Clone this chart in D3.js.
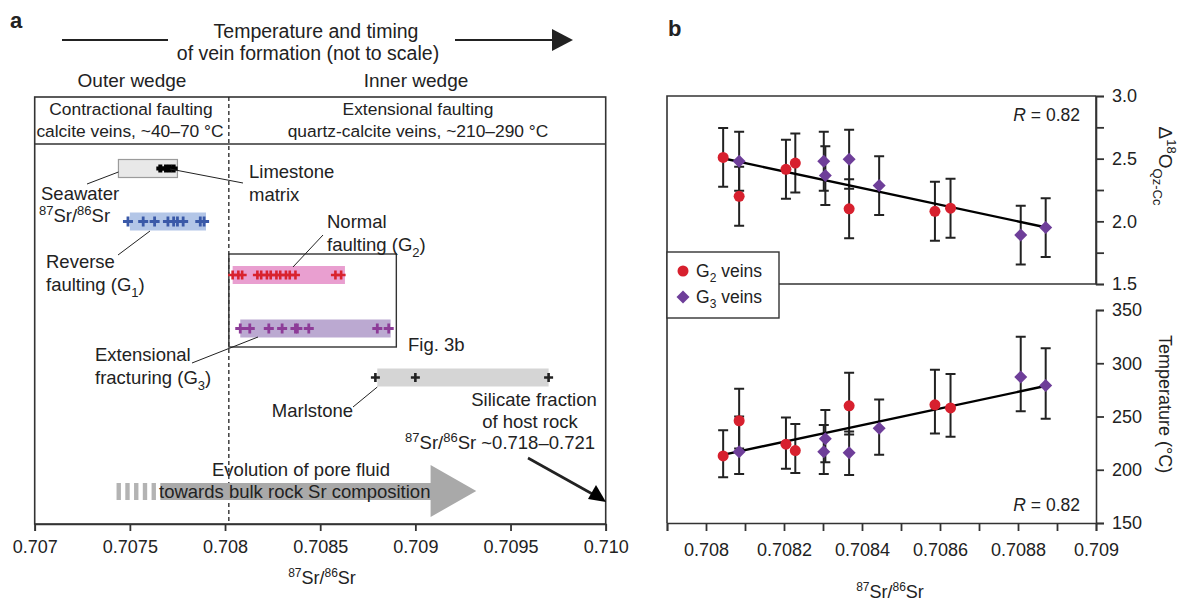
<!DOCTYPE html>
<html>
<head>
<meta charset="utf-8">
<script src="https://cdn.jsdelivr.net/npm/d3@7"></script>
<style>
  body { margin: 0; background: #fff; }
</style>
</head>
<body>
<script>
// ---- panel a: 87Sr/86Sr ranges ----
const srTicksA = [0.707, 0.7075, 0.708, 0.7085, 0.709, 0.7095, 0.710];
const seawaterRange = [0.70744, 0.70775];
const limestoneSr = [0.70766, 0.70769, 0.70771, 0.70773];
const g1Range = [0.7075, 0.7079];
const g1Sr = [0.70749, 0.70757, 0.70763, 0.70770, 0.70773, 0.70775, 0.70778, 0.70787, 0.70789];
const g2Range = [0.70804, 0.70863];
const g2SrA = [0.70804, 0.70807, 0.70809, 0.70817, 0.70819, 0.70822, 0.70824,
  0.70827, 0.70829, 0.70832, 0.70834, 0.70837, 0.70858, 0.70861];
const g3Range = [0.70808, 0.70887];
const g3SrA = [0.70808, 0.70813, 0.70823, 0.70830, 0.70837, 0.70838, 0.70844, 0.70880, 0.70886];
const marlRange = [0.70880, 0.70970];
const marlSr = [0.70879, 0.70900, 0.70970];
const fig3bRange = [0.70802, 0.70890];
const veinBoundary = 0.70802;
// stripes start, body start, head base, tip
const poreFluidArrow = [0.70743, 0.70766, 0.70908, 0.70932];

// ---- panel b: G2 / G3 veins ----
const srTicksB = [0.7079, 0.708, 0.7081, 0.7082, 0.7083, 0.7084, 0.7085, 0.7086, 0.7087, 0.7088, 0.7089, 0.709];
const srLabelsB = [0.708, 0.7082, 0.7084, 0.7086, 0.7088, 0.709];
const d18OTicks = [1.5, 1.75, 2.0, 2.25, 2.5, 2.75, 3.0];
const tempTicks = [150, 200, 250, 300, 350];

const g2Sr = [0.708044, 0.708085, 0.708205, 0.708229, 0.708367, 0.708587, 0.708627];
const g2D18O = [2.51, 2.20, 2.415, 2.465, 2.10, 2.08, 2.105];
const g2D18OErr = [0.235, 0.235, 0.235, 0.235, 0.235, 0.235, 0.235];
const g2Temp = [213, 246, 224, 218, 260, 261, 258];
const g2TempLo = [193, 220, 201, 197, 233, 234, 231];
const g2TempHi = [237, 276, 249, 243, 291, 294, 290];

const g3Sr = [0.708085, 0.708302, 0.708306, 0.708367, 0.708444, 0.708807, 0.708871];
const g3D18O = [2.48, 2.48, 2.365, 2.495, 2.285, 1.89, 1.95];
const g3D18OErr = [0.235, 0.235, 0.235, 0.235, 0.235, 0.235, 0.235];
const g3Temp = [217, 217, 229, 216, 239, 287, 279];
const g3TempLo = [196, 196, 207, 195, 214, 255, 248];
const g3TempHi = [250, 242, 256, 236, 266, 325, 314];

const fitSr = [0.70804, 0.70887];
const fitD18O = [2.505, 1.953];
const fitTemp = [213.8, 278.6];

const width = 1185;
const height = 602;
const font = "'Liberation Sans', Arial, Helvetica, sans-serif";
const labelSize = 18.5;

const colors = {
  text: "#222222",
  frame: "#333333",
  blueBar: "#b3c6e7",
  blueCross: "#3a59a8",
  pinkBar: "#e99fd0",
  redCross: "#d9232e",
  purpleBar: "#bba9d1",
  purpleCross: "#8d3c98",
  grayBar: "#d5d5d5",
  seawater: "#e8e8e8",
  seawaterEdge: "#9b9b9b",
  arrow: "#a9a9a9",
  g2: "#d7202e",
  g3: "#6e3e99",
};

const svg = d3.select("body")
  .append("svg")
  .attr("width", width)
  .attr("height", height)
  .attr("viewBox", `0 0 ${width} ${height}`)
  .style("font-family", font);

svg.append("rect").attr("width", width).attr("height", height).attr("fill", "#fff");

// text with super/subscript parts: [text, "sup"|"sub"|null]
function richText(g, x, y, parts, opts = {}) {
  const size = opts.size || labelSize;
  const t = g.append("text")
    .attr("x", x)
    .attr("y", y)
    .attr("fill", colors.text)
    .attr("font-size", size)
    .attr("text-anchor", opts.anchor || "start");
  if (opts.transform) t.attr("transform", opts.transform);
  let shift = 0;
  parts.forEach(([str, kind]) => {
    const span = t.append("tspan").text(str);
    let target = 0;
    if (kind === "sup") target = -Math.round(size * 0.4);
    if (kind === "sub") target = Math.round(size * 0.3);
    if (target !== shift) span.attr("dy", target - shift);
    shift = target;
    if (kind) span.attr("font-size", Math.round(size * 0.68));
  });
  return t;
}

function line(g, x1, y1, x2, y2, w = 1) {
  return g.append("line")
    .attr("x1", x1).attr("y1", y1).attr("x2", x2).attr("y2", y2)
    .attr("stroke", colors.text).attr("stroke-width", w);
}

function label(g, x, y, str, size = labelSize, anchor = "start") {
  return g.append("text").attr("x", x).attr("y", y).attr("text-anchor", anchor)
    .attr("font-size", size).attr("fill", colors.text).text(str);
}

// ================= panel a =================
const a = svg.append("g");
const xA = d3.scaleLinear().domain([0.707, 0.710]).range([34.7, 605.7]);
const frameA = { top: 97, header: 144, bottom: 524 };

a.append("text").attr("x", 10).attr("y", 28).attr("font-size", 22).attr("font-weight", 700)
  .attr("fill", colors.text).text("a");

// timing arrow header
line(a, 62, 40, 168, 40, 2.2);
line(a, 455, 40, 556, 40, 2.2);
a.append("path").attr("d", "M552,29L573,40L552,51Z").attr("fill", colors.text);
label(a, 316, 38, "Temperature and timing", 19.5, "middle");
label(a, 308, 60, "of vein formation (not to scale)", 19.5, "middle");
label(a, 132, 87, "Outer wedge", 19, "middle");
label(a, 416, 87, "Inner wedge", 19, "middle");

// frame
a.append("rect")
  .attr("x", xA(0.707)).attr("y", frameA.top)
  .attr("width", xA(0.710) - xA(0.707)).attr("height", frameA.bottom - frameA.top)
  .attr("fill", "none").attr("stroke", colors.frame).attr("stroke-width", 1.6);
line(a, xA(0.707), frameA.header, xA(0.710), frameA.header, 1.6).attr("stroke", colors.frame);
line(a, xA(veinBoundary), frameA.top, xA(veinBoundary), frameA.bottom, 1.3)
  .attr("stroke-dasharray", "4,3");

label(a, 131, 115, "Contractional faulting", 17.4, "middle");
label(a, 130, 137, "calcite veins, ~40–70 °C", 17.4, "middle");
label(a, 418, 115, "Extensional faulting", 17.4, "middle");
label(a, 418, 137, "quartz-calcite veins, ~210–290 °C", 17.4, "middle");

// x axis of panel a
a.append("g")
  .attr("transform", `translate(0,${frameA.bottom})`)
  .call(d3.axisBottom(xA).tickValues(srTicksA).tickSize(7).tickPadding(9)
    .tickFormat(d => d === 0.710 ? "0.710" : String(d)))
  .call(g => g.select(".domain").attr("stroke", colors.frame).attr("stroke-width", 1.6))
  .call(g => g.selectAll(".tick line").attr("stroke", colors.frame).attr("stroke-width", 1.8))
  .call(g => g.selectAll("text").attr("font-size", 18).attr("font-family", font).attr("fill", colors.text));
richText(a, 322, 584, [["87", "sup"], ["Sr/", null], ["86", "sup"], ["Sr", null]], { anchor: "middle", size: 18 });

const rowY = { seawater: 168.5, g1: 221.5, g2: 275, g3: 328.5, marl: 377.5 };
const barH = 18;

function rangeBar(range, cy, fill, stroke) {
  const r = a.append("rect")
    .attr("x", xA(range[0])).attr("y", cy - barH / 2)
    .attr("width", xA(range[1]) - xA(range[0])).attr("height", barH)
    .attr("fill", fill);
  if (stroke) r.attr("stroke", stroke).attr("stroke-width", 1.2);
}

function crosses(values, cy, color, half = 4.5, w = 2.6) {
  a.append("g").selectAll("path")
    .data(values)
    .join("path")
    .attr("d", d => `M${xA(d) - half},${cy}H${xA(d) + half}M${xA(d)},${cy - half}V${cy + half}`)
    .attr("stroke", color)
    .attr("stroke-width", w)
    .attr("fill", "none");
}

// Fig. 3b box
a.append("rect")
  .attr("x", xA(fig3bRange[0])).attr("y", 254)
  .attr("width", xA(fig3bRange[1]) - xA(fig3bRange[0])).attr("height", 93)
  .attr("fill", "none").attr("stroke", colors.frame).attr("stroke-width", 1.4);
label(a, 408, 351, "Fig. 3b");

rangeBar(seawaterRange, rowY.seawater, colors.seawater, colors.seawaterEdge);
crosses(limestoneSr, rowY.seawater, "#000", 4, 4);
rangeBar(g1Range, rowY.g1, colors.blueBar);
crosses(g1Sr, rowY.g1, colors.blueCross, 5, 2.8);
rangeBar(g2Range, rowY.g2, colors.pinkBar);
crosses(g2SrA, rowY.g2, colors.redCross);
rangeBar(g3Range, rowY.g3, colors.purpleBar);
crosses(g3SrA, rowY.g3, colors.purpleCross, 5, 2.8);
rangeBar(marlRange, rowY.marl, colors.grayBar);
crosses(marlSr, rowY.marl, colors.text, 4.5, 2.6);

// labels and leader lines
line(a, xA(seawaterRange[0]), 172, 87, 184);
label(a, 41, 200, "Seawater");
richText(a, 39, 222, [["87", "sup"], ["Sr/", null], ["86", "sup"], ["Sr", null]]);

line(a, 170, 169, 243, 183);
label(a, 249, 178, "Limestone");
label(a, 249, 201, "matrix");

line(a, 150, 231, 118, 255);
label(a, 46, 268, "Reverse");
richText(a, 46, 291, [["faulting (G", null], ["1", "sub"], [")", null]]);

line(a, 323, 235, 293, 267);
label(a, 327, 228, "Normal");
richText(a, 327, 251, [["faulting (G", null], ["2", "sub"], [")", null]]);

line(a, 258, 337, 192, 363);
label(a, 95, 361, "Extensional");
richText(a, 95, 384, [["fracturing (G", null], ["3", "sub"], [")", null]]);

line(a, xA(marlRange[0]), 387, 353, 407);
label(a, 353, 417, "Marlstone", labelSize, "end");

label(a, 534, 406, "Silicate fraction", labelSize, "middle");
label(a, 530, 428, "of host rock", labelSize, "middle");
richText(a, 595, 449, [["87", "sup"], ["Sr/", null], ["86", "sup"], ["Sr ~0.718–0.721", null]], { anchor: "end" });

// black arrow to the silicate fraction
line(a, 528, 458, 596, 496, 2.6);
a.append("path").attr("d", "M606,502L588,499L596,485Z").attr("fill", "#000");

// pore-fluid evolution arrow
const [stripeStart, bodyStart, headBase, tip] = poreFluidArrow;
const stripeStep = (xA(bodyStart) - xA(stripeStart)) / 5;
a.append("g").selectAll("rect")
  .data(d3.range(5))
  .join("rect")
  .attr("x", i => xA(stripeStart) + i * stripeStep)
  .attr("y", 483)
  .attr("width", stripeStep * 0.5)
  .attr("height", 17)
  .attr("fill", "#b3b3b3");
a.append("path")
  .attr("d", `M${xA(bodyStart)},483H${xA(headBase)}V465L${xA(tip)},491L${xA(headBase)},517V500H${xA(bodyStart)}Z`)
  .attr("fill", colors.arrow);
label(a, 301, 476, "Evolution of pore fluid", labelSize, "middle");
label(a, 159, 498, "towards bulk rock Sr composition");

// ================= panel b =================
const b = svg.append("g");
const xB = d3.scaleLinear().domain([0.7079, 0.709]).range([667, 1096]);
const yO = d3.scaleLinear().domain([1.5, 3.0]).range([284, 96]);
const yT = d3.scaleLinear().domain([150, 350]).range([523, 310]);

b.append("text").attr("x", 668).attr("y", 36).attr("font-size", 22).attr("font-weight", 700)
  .attr("fill", colors.text).text("b");

// frame
b.append("path")
  .attr("d", `M${xB.range()[1]},${yO(3.0)}H${xB.range()[0]}V${yT(150)}`)
  .attr("fill", "none").attr("stroke", colors.frame).attr("stroke-width", 1.6);
line(b, xB.range()[0], yO(1.5), xB.range()[1], yO(1.5), 1.6).attr("stroke", colors.frame);

const labelled = d => Math.abs(d * 2 - Math.round(d * 2)) < 1e-9;
b.append("g")
  .attr("transform", `translate(${xB.range()[1]},0)`)
  .call(d3.axisRight(yO).tickValues(d18OTicks).tickSize(8).tickPadding(8)
    .tickFormat(d => labelled(d) ? d3.format(".1f")(d) : ""))
  .call(g => g.select(".domain").attr("stroke", colors.frame).attr("stroke-width", 1.6))
  .call(g => g.selectAll(".tick line").attr("stroke", colors.frame).attr("stroke-width", 1.8))
  .call(g => g.selectAll("text").attr("font-size", 18).attr("font-family", font).attr("fill", colors.text));

b.append("g")
  .attr("transform", `translate(${xB.range()[1]},0)`)
  .call(d3.axisRight(yT).tickValues(tempTicks).tickSize(8).tickPadding(8).tickFormat(d3.format("d")))
  .call(g => g.select(".domain").attr("stroke", colors.frame).attr("stroke-width", 1.6))
  .call(g => g.selectAll(".tick line").attr("stroke", colors.frame).attr("stroke-width", 1.8))
  .call(g => g.selectAll("text").attr("font-size", 18).attr("font-family", font).attr("fill", colors.text));
// right axis line joins the two panels
line(b, xB.range()[1], yO(3.0), xB.range()[1], yO(1.5), 1.6).attr("stroke", colors.frame);

b.append("g")
  .attr("transform", `translate(0,${yT(150)})`)
  .call(d3.axisBottom(xB).tickValues(srTicksB).tickSize(8).tickPadding(12)
    .tickFormat(d => srLabelsB.some(v => Math.abs(v - d) < 1e-9) ? String(d) : ""))
  .call(g => g.select(".domain").attr("stroke", colors.frame).attr("stroke-width", 1.6))
  .call(g => g.selectAll(".tick line").attr("stroke", colors.frame).attr("stroke-width", 1.8))
  .call(g => g.selectAll("text").attr("font-size", 18).attr("font-family", font).attr("fill", colors.text));
richText(b, 890, 598, [["87", "sup"], ["Sr/", null], ["86", "sup"], ["Sr", null]], { anchor: "middle", size: 18 });

// axis titles, rotated
richText(b, 0, 0, [["Δ", null], ["18", "sup"], ["O", null], ["Qz-Cc", "sub"]],
  { anchor: "middle", size: 19, transform: "translate(1159,166) rotate(90)" });
richText(b, 0, 0, [["Temperature (°C)", null]],
  { anchor: "middle", size: 18, transform: "translate(1159,404) rotate(90)" });

function series(sr, ys, lo, hi, yScale) {
  return sr.map((s, i) => ({ x: xB(s), y: yScale(ys[i]), lo: yScale(lo[i]), hi: yScale(hi[i]) }));
}
const topG2 = series(g2Sr, g2D18O, g2D18O.map((v, i) => v - g2D18OErr[i]), g2D18O.map((v, i) => v + g2D18OErr[i]), yO);
const topG3 = series(g3Sr, g3D18O, g3D18O.map((v, i) => v - g3D18OErr[i]), g3D18O.map((v, i) => v + g3D18OErr[i]), yO);
const botG2 = series(g2Sr, g2Temp, g2TempLo, g2TempHi, yT);
const botG3 = series(g3Sr, g3Temp, g3TempLo, g3TempHi, yT);

function errorBars(pts) {
  const g = b.append("g").attr("stroke", colors.text).attr("stroke-width", 2).attr("fill", "none");
  g.selectAll("path").data(pts).join("path")
    .attr("d", d => `M${d.x},${d.lo}V${d.hi}M${d.x - 5},${d.lo}H${d.x + 5}M${d.x - 5},${d.hi}H${d.x + 5}`);
}
[topG2, topG3, botG2, botG3].forEach(errorBars);

line(b, xB(fitSr[0]), yO(fitD18O[0]), xB(fitSr[1]), yO(fitD18O[1]), 2.4).attr("stroke", "#000");
line(b, xB(fitSr[0]), yT(fitTemp[0]), xB(fitSr[1]), yT(fitTemp[1]), 2.4).attr("stroke", "#000");

const diamond = "M0,-6.5L6.5,0L0,6.5L-6.5,0Z";
function dots(pts) {
  b.append("g").selectAll("circle").data(pts).join("circle")
    .attr("cx", d => d.x).attr("cy", d => d.y).attr("r", 5.5).attr("fill", colors.g2);
}
function diamonds(pts) {
  b.append("g").selectAll("path").data(pts).join("path")
    .attr("transform", d => `translate(${d.x},${d.y})`).attr("d", diamond).attr("fill", colors.g3);
}
dots(topG2); diamonds(topG3);
dots(botG2); diamonds(botG3);

const rLabel = (y) => {
  const t = b.append("text").attr("x", 1080).attr("y", y).attr("text-anchor", "end")
    .attr("font-size", 17.5).attr("fill", colors.text);
  t.append("tspan").attr("font-style", "italic").text("R");
  t.append("tspan").text(" = 0.82");
};
rLabel(121);
rLabel(511);

// legend
const leg = b.append("g");
leg.append("rect").attr("x", 667).attr("y", 252).attr("width", 112).attr("height", 66)
  .attr("fill", "#fff").attr("stroke", colors.frame).attr("stroke-width", 1.4);
leg.append("circle").attr("cx", 683).attr("cy", 271).attr("r", 5.5).attr("fill", colors.g2);
richText(leg, 696, 277, [["G", null], ["2", "sub"], [" veins", null]], { size: 17.5 });
leg.append("path").attr("transform", "translate(683,297)").attr("d", diamond).attr("fill", colors.g3);
richText(leg, 696, 303, [["G", null], ["3", "sub"], [" veins", null]], { size: 17.5 });
</script>
</body>
</html>
